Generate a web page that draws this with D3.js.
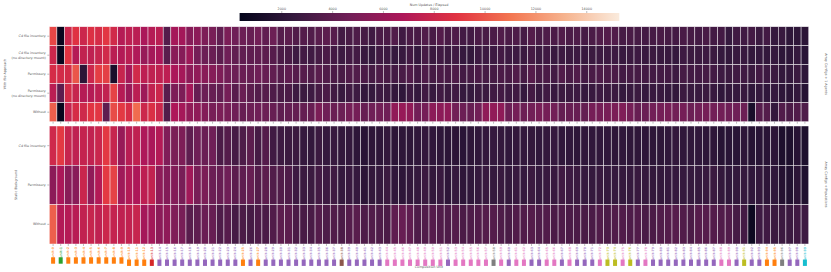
<!DOCTYPE html>
<html>
<head>
<meta charset="utf-8">
<script src="https://cdn.jsdelivr.net/npm/d3@7"></script>
<style>
  html, body { margin: 0; padding: 0; background: #fff; }
  svg { display: block; }
  text { font-family: "DejaVu Sans", sans-serif; fill: #555; }
  .axis path { display: none; }
  .axis line { stroke: #555; stroke-width: 0.4; }
</style>
</head>
<body>
<svg id="chart" width="831" height="272"></svg>
<script>
// row labels for both panels
let topRows = ["Cd file inventory", "Cd file inventory\n(no directory mount)", "Permissory", "Permissory\n(no directory mount)", "Without"];
let bottomRows = ["Cd file inventory", "Permissory", "Without"];

// kind of each column
let unitKinds = ["o","g","o","o","o","o","o","o","o","o","o","o","o","r","p","p","p","p","p","p",
  "p","p","p","p","p","o","p","o","p","p","p","p","p","p","p","p","p","p","b","p",
  "p","p","p","p","m","m","m","m","m","m","m","m","p","m","m","m","m","m","y","m",
  "p","m","m","p","p","m","m","p","m","p","p","p","m","l","l","m","l","p","m","p",
  "p","p","p","p","p","p","p","p","m","m","p","l","p","p","o","o","y","p","p","c"];

let row1 = [9500,600,8000,8800,8000,8700,8400,9000,8200,7100,7400,7300,6700,7100,7300,3600,6500,6400,5400,5600,
  5100,4900,4100,5000,4600,4500,4300,4700,4100,4500,3700,3900,3500,3600,3500,3800,3900,3700,3000,3200,
  3400,3100,2900,3300,3300,3500,2900,3300,3200,3500,3200,3600,3200,3400,3000,3000,3300,3200,3300,3500,
  3300,3400,3100,3600,3200,3400,3300,3500,3300,3400,3100,3300,3500,3600,3500,3100,3200,3100,3000,3100,
  3200,3100,3000,3200,3100,3000,3200,3000,3000,2500,2900,2900,3000,2700,3000,2500,2600,2200,2200,2100];
let row2 = [8000,600,8900,7100,7600,7500,7800,8200,7300,7000,7300,6900,6000,6500,6700,3800,5500,5400,6200,4800,
  4500,4400,3900,4600,4100,4100,4000,4100,3900,3700,3300,3200,2800,3000,2900,3100,3300,3000,2800,3000,
  3000,2600,2500,2900,2800,2500,2600,3000,2500,3100,2700,2900,2700,2900,2500,2400,2800,2800,2800,3000,
  2800,2800,2700,3100,2700,2900,2600,2800,2700,2800,2600,2700,2800,2800,2800,2600,2700,2800,2600,2700,
  2600,2600,2500,2800,2700,2700,2800,2700,2500,2400,2600,2600,2400,2500,2400,2500,2200,2200,2500,2000];
let row3 = [8400,8300,8300,10000,2100,8000,9200,9300,1300,7800,6500,8200,7400,7500,7500,7400,6700,6500,5600,5800,
  5500,5400,5100,4700,4500,4400,4300,4600,4300,4100,3700,4000,3700,3700,3500,3800,3500,3300,3200,3500,
  3500,3300,3100,3400,3200,3000,3200,3500,3000,3400,3100,3300,3200,3400,3000,3100,3300,3100,3100,3300,
  3200,3500,3100,3700,3200,3300,3000,3500,3200,3500,3000,3200,3400,3300,3300,3000,3100,3100,3000,3000,
  3000,3000,2800,3100,3000,3000,3100,3000,2800,2700,2900,2900,2700,3000,2800,2700,2400,2400,2700,2200];
let row4 = [7300,3900,8300,7800,7100,7100,7400,7600,9400,7100,6100,7300,6200,7600,8000,3800,5100,5100,6500,4300,
  4500,4300,4100,4800,3800,4400,3900,3600,3700,3400,3200,3300,2800,2700,2800,3100,3300,2900,2600,2900,
  2800,2400,2500,2800,2700,2400,2300,2800,2500,2900,2600,2900,2700,2900,2500,2500,2700,2700,2900,3000,
  2800,2900,2500,3000,2600,2900,2600,2700,2700,2800,2500,2600,2800,2700,2700,2500,2600,2700,2500,2600,
  2600,2500,2400,2700,2600,2600,2700,2600,2300,2400,2500,2600,2300,2500,2300,2500,2200,2100,2400,1900];
let row5 = [10300,500,7700,8400,8100,8900,9000,4000,9700,9100,8500,10700,8000,8600,8000,3500,6800,6500,5800,5700,
  5300,4900,5000,4900,4600,4300,4500,4600,4500,4300,4000,4200,4200,4200,4300,5000,4600,4400,4500,4800,
  4800,4300,4600,4700,4600,5800,6000,5800,4700,4800,5600,5600,5700,4700,4500,4300,4700,5700,5800,5700,
  4500,4800,4500,4700,4900,4800,4700,4200,4300,4300,4200,4800,4800,4900,5000,5200,4800,4300,4400,4700,
  4800,4900,4700,4800,4500,4700,4800,4700,4700,4600,4600,4500,1300,3700,3600,2400,3500,3300,3500,3400];
let row6 = [8100,9100,7800,7500,7700,7600,7900,9100,7800,6000,7200,7500,6800,6700,7000,5200,5000,5100,4000,4600,
  4400,4600,3300,3600,3100,3400,3900,3100,3600,2900,2800,2700,2700,2500,2400,2700,2500,2600,2400,2400,
  2200,2000,2200,2200,2400,2100,2200,2200,2300,2400,2300,2200,2100,2100,2000,2200,2300,2400,2500,2400,
  2300,2400,2400,2400,2300,2400,2500,2300,2300,2200,2300,2300,2300,2300,2200,2300,2200,2200,2200,2200,
  2200,2300,2400,2300,2300,2300,2200,2200,1900,2000,2000,2200,1900,2000,2000,2100,1500,1500,1900,1500];
let row7 = [5600,6700,5500,5500,7900,5800,7000,9100,9400,6300,7000,6800,7400,7600,5700,5300,5300,4900,6300,4900,
  5000,4500,4300,4600,3900,4000,4300,3600,3900,3500,3500,3400,2800,2700,2700,3000,2800,2900,2500,2600,
  2500,2100,2400,2500,2700,2300,2200,2400,2500,2700,2400,2600,2200,2500,2200,2300,2500,2600,2500,2600,
  2400,2600,2500,2700,2500,2600,2600,2900,2800,2700,2500,2500,2600,2500,2500,2500,2500,2600,2500,2400,
  2400,2500,2500,2500,2500,2500,2600,2700,2400,2300,2400,2500,2300,2400,2200,2300,1800,1700,2100,1600];
let row8 = [10300,7000,7100,7200,7600,7800,7500,8000,7700,7500,7600,7800,6500,6400,5600,5700,5200,4900,3800,4000,
  4400,4300,3400,3700,3100,3300,3100,3400,3300,3500,3900,3900,3300,3200,3200,3600,3400,3500,3300,3600,
  3800,3400,3500,3400,3300,4000,4300,4000,3400,3500,3700,3500,3400,3600,3300,3400,3500,3600,3600,3400,
  3200,3500,3500,3600,3400,3500,3300,3400,3300,3300,3200,3300,3500,3300,3500,3500,3400,3500,3200,3300,
  3500,3600,3700,3500,3300,3700,3700,3600,3500,3500,3100,3000,800,2800,2900,2700,2700,2700,2900,2800];

let topValues = [row1, row2, row3, row4, row5];
let bottomValues = [row6, row7, row8];

let kindColors = {o:"#ff7f0e", g:"#2ca02c", r:"#d62728", p:"#9467bd", b:"#8c564b", m:"#e377c2", y:"#7f7f7f", l:"#bcbd22", c:"#17becf"};
let colorbarTicks = [2000, 4000, 6000, 8000, 10000, 12000, 14000];

// seaborn rocket, sampled
let rocketStops = ["#03051a","#35193e","#701f57","#ad1759","#e13342","#f37651","#f6b48f","#faebdd"];
let vmin = 360, vmax = 15300;
let rocket = d3.scaleLinear()
  .domain(rocketStops.map(function(d, i) { return vmin + (vmax - vmin) * i / (rocketStops.length - 1); }))
  .range(rocketStops)
  .interpolate(d3.interpolateRgb);

let svg = d3.select("#chart");
let labelSize = 3.3;

let units = unitKinds.map(function(d, i) { return i; });
let x = d3.scaleBand().domain(units).range([49.3, 808.7]);

function drawPanel(rows, values, top, bottom) {
  let y = d3.scaleBand().domain(rows).range([top, bottom]);
  let g = svg.append("g");

  values.forEach(function(vals, r) {
    g.selectAll("rect.r" + r)
      .data(vals).enter()
      .append("rect")
      .attr("class", "r" + r)
      .attr("x", function(d, i) { return x(i); })
      .attr("y", y(rows[r]))
      .attr("width", x.bandwidth())
      .attr("height", y.bandwidth())
      .attr("fill", function(d) { return rocket(d); })
      .attr("stroke", "#fff")
      .attr("stroke-opacity", 0.75)
      .attr("stroke-width", 0.6);
  });

  // y axis, two line labels are split by hand
  let yAxis = svg.append("g")
    .attr("class", "axis")
    .attr("transform", "translate(49.3,0)")
    .call(d3.axisLeft(y).tickSize(2).tickPadding(1.5));
  yAxis.selectAll("text").each(function(d) {
    let parts = d.split("\n");
    let t = d3.select(this).text(null).attr("font-size", labelSize).attr("font-family", null);
    if (parts.length == 1) {
      t.text(parts[0]);
    } else {
      t.attr("dy", null).attr("y", -1.2);
      t.append("tspan").attr("x", -3.5).text(parts[0]);
      t.append("tspan").attr("x", -3.5).attr("dy", 4.6).text(parts[1]);
    }
  });

  // x tick marks only
  svg.append("g")
    .attr("class", "axis")
    .attr("transform", "translate(0," + bottom + ")")
    .call(d3.axisBottom(x).tickSize(2).tickFormat(""));
}

drawPanel(topRows, topValues, 26.7, 121.7);
drawPanel(bottomRows, bottomValues, 126, 244);

// column labels with the coloured square after them
let unitLabels = svg.append("g").selectAll("g")
  .data(unitKinds).enter()
  .append("g")
  .attr("transform", function(d, i) { return "translate(" + (x(i) + x.bandwidth() / 2) + ",247)"; });

unitLabels.append("text")
  .attr("transform", "rotate(-90)")
  .attr("text-anchor", "end")
  .attr("dy", "0.35em")
  .attr("font-size", 3.2)
  .attr("font-weight", "bold")
  .style("fill", function(d) { return kindColors[d]; })
  .style("opacity", 0.75)
  .text(function(d, i) { return "unit-" + i; });

unitLabels.append("rect")
  .attr("x", -2)
  .attr("width", 4)
  .attr("height", 6.4)
  .attr("y", function() {
    return this.parentNode.querySelector("text").getComputedTextLength() - 0.4;
  })
  .attr("fill", function(d) { return kindColors[d]; });

// colorbar
let cbar = d3.scaleLinear().domain([vmin, vmax]).range([239.6, 619.3]);
let defs = svg.append("defs");
let grad = defs.append("linearGradient").attr("id", "rocket");
rocket.domain().forEach(function(v) {
  grad.append("stop")
    .attr("offset", (v - vmin) / (vmax - vmin))
    .attr("stop-color", rocket(v));
});
svg.append("rect")
  .attr("x", cbar(vmin))
  .attr("y", 13)
  .attr("width", cbar(vmax) - cbar(vmin))
  .attr("height", 8)
  .attr("fill", "url(#rocket)");

let cbarAxis = svg.append("g")
  .attr("class", "axis")
  .attr("transform", "translate(0,13)")
  .call(d3.axisTop(cbar).tickValues(colorbarTicks).tickSize(2).tickPadding(1).tickFormat(d3.format("d")));
cbarAxis.selectAll("text").attr("font-size", labelSize).attr("font-family", null);

svg.append("text")
  .attr("x", 429)
  .attr("y", 5.6)
  .attr("text-anchor", "middle")
  .attr("font-size", labelSize)
  .text("Num Updates / Elapsed");

// axis titles
function sideLabel(text, tx, ty, angle) {
  svg.append("text")
    .attr("transform", "translate(" + tx + "," + ty + ") rotate(" + angle + ")")
    .attr("text-anchor", "middle")
    .attr("dy", "0.35em")
    .attr("font-size", labelSize)
    .text(text);
}
sideLabel("With file Approach", 4.6, 74, -90);
sideLabel("Static Background", 15.8, 185, -90);
sideLabel("Array Configs + 1 Agents", 826, 74, 90);
sideLabel("Array Configs + Populations", 826, 184.5, 90);

svg.append("text")
  .attr("x", 429)
  .attr("y", 268)
  .attr("text-anchor", "middle")
  .attr("font-size", labelSize)
  .text("Composition Unit");
</script>
</body>
</html>
